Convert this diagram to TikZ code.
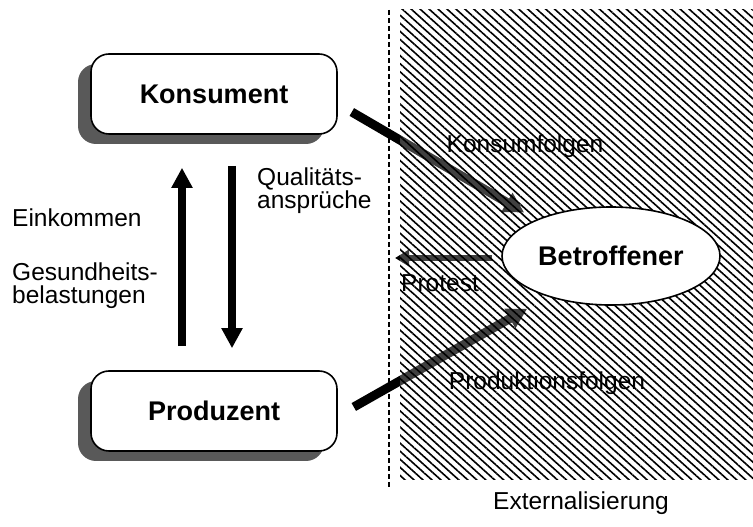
\documentclass[tikz,border=0pt]{standalone}
\usepackage{fontspec}
\setmainfont{Liberation Sans}
\usetikzlibrary{arrows.meta,shapes.geometric,shadows,patterns.meta}
\pgfdeclarelayer{vorne}
\pgfsetlayers{main,vorne}

\tikzset{
  akteur/.style={draw, line width=1.6pt, rounded corners=18pt, fill=white,
    minimum width=246pt, minimum height=80pt,
    font=\fontsize{27}{30}\selectfont\bfseries,
    drop shadow={shadow xshift=-13pt, shadow yshift=-10pt, fill=black!65, opacity=1}},
  beschrift/.style={font=\fontsize{24.5}{23}\selectfont, align=left, inner sep=0pt},
  fluss/.style={line width=8pt, -{Triangle[length=20pt,width=20pt]}},
  folge/.style={line width=9pt, -{Triangle[length=20pt,width=21pt]}},
  protest/.style={line width=5.5pt, -{Triangle[length=14pt,width=16pt]}},
}

\begin{document}
\begin{tikzpicture}[x=1pt, y=1pt]
  \useasboundingbox (0,0) rectangle (753,527);

  % der Betroffene liegt ueber der Schraffur
  \begin{pgfonlayer}{vorne}
    \node[ellipse, draw, line width=1.6pt, fill=white, minimum width=218pt,
      minimum height=98pt, inner sep=0pt, font=\fontsize{27}{30}\selectfont\bfseries]
      (betr) at (611,271) {Betroffener};
  \end{pgfonlayer}

  \node[akteur] (kons) at (214,433) {Konsument};
  \node[akteur] (prod) at (214,116) {Produzent};

  \coordinate (grenze) at (389,517);
  \coordinate (grenzeunten) at (389,40);
  \coordinate (protestziel) at (395,269);

  % Fluesse zwischen Konsument und Produzent
  \draw[fluss, shorten <=24pt, shorten >=33pt] ([xshift=-32pt]prod.north) -- ([xshift=-32pt]kons.south);
  \draw[fluss, shorten <=31pt, shorten >=22pt] ([xshift=18pt]kons.south) -- ([xshift=18pt]prod.north);

  % Folgen fuer den Betroffenen
  \draw[folge, shorten >=14pt] ([shift={(14pt,-18pt)}]kons.east) -- (betr.154);
  \draw[folge, shorten >=24pt] ([shift={(16pt,4pt)}]prod.east) -- (betr.213);
  \draw[protest] ([shift={(-9pt,-2pt)}]betr.west) -- (protestziel);

  \fill[white, opacity=.25] (400,47) rectangle (753,517);

  \node[beschrift, anchor=north west] (qual) at (257,359) {\fontsize{24.5}{22}\selectfont Qualitäts-\\ansprüche};
  \node[beschrift, anchor=base west] (eink) at (12,300) {Einkommen};
  \node[beschrift, anchor=north west] (gesund) at (12,264) {\fontsize{24.5}{25}\selectfont Gesundheits-\\belastungen};
  \node[beschrift, anchor=base] (konsfolg) at (525,374) {Konsumfolgen};
  \node[beschrift, anchor=base] (prot) at (440,235) {Protest};
  \node[beschrift, anchor=base] (prodfolg) at (547,137) {Produktionsfolgen};
  \node[beschrift, anchor=base] (extern) at (581,17) {Externalisierung};

  % Schraffur der Externalisierung
  \path[pattern={Lines[angle=-42, distance=6pt, line width=1.6pt]}] (400,47) rectangle (753,517);
  \draw[dash pattern=on 5pt off 3pt, line width=1.2pt] (grenze) -- (grenzeunten);
\end{tikzpicture}
\end{document}
